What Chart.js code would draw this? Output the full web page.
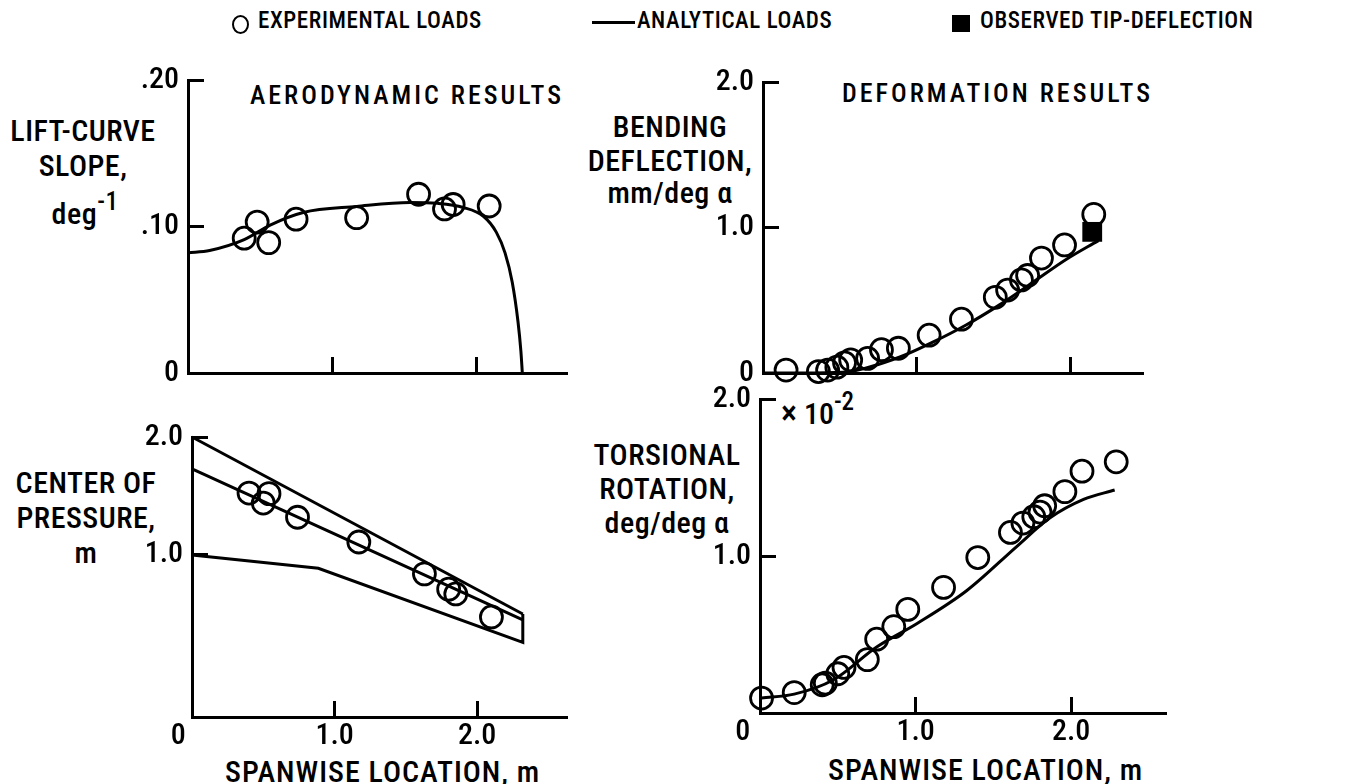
<!DOCTYPE html>
<html>
<head>
<meta charset="utf-8">
<script src="https://cdn.jsdelivr.net/npm/chart.js@4.4.0/dist/chart.umd.min.js"></script>
<style>
  body { margin: 0; background: #fff; width: 1356px; height: 784px; position: relative; overflow: hidden;
         font-family: 'Roboto Condensed', 'DejaVu Sans Condensed', sans-serif; font-weight: 500; color: #000; }
  canvas { position: absolute; }
  .t { position: absolute; white-space: nowrap; line-height: 1; }
  .lg { font-size: 23px; letter-spacing: 0.6px; }
  .hd { font-size: 26px; letter-spacing: 3px; }
  .al { font-size: 30px; text-align: center; width: 220px; letter-spacing: 0.5px; }
  .xl { font-size: 30px; letter-spacing: 1px; }
  .sym { position: absolute; }
</style>
</head>
<body>
<!-- legend -->
<div class="sym" style="left:232px;top:15px;width:13px;height:15px;border:2.5px solid #000;border-radius:50%;"></div>
<div class="t lg" style="left:258px;top:9px;">EXPERIMENTAL LOADS</div>
<div class="sym" style="left:592px;top:21px;width:43px;height:3px;background:#000;"></div>
<div class="t lg" style="left:637px;top:9px;">ANALYTICAL LOADS</div>
<div class="sym" style="left:952px;top:15px;width:18px;height:17px;background:#000;"></div>
<div class="t lg" style="left:980px;top:9px;">OBSERVED TIP-DEFLECTION</div>

<!-- panel titles -->
<div class="t hd" style="left:250px;top:82px;">AERODYNAMIC RESULTS</div>
<div class="t hd" style="left:842px;top:80px;">DEFORMATION RESULTS</div>

<!-- y axis titles -->
<div class="t al" style="left:-27px;top:116px;">LIFT-CURVE</div>
<div class="t al" style="left:-27px;top:151px;">SLOPE,</div>
<div class="t al" style="left:-25px;top:199px;">deg<span style="position:relative;top:-14px;font-size:25px;">-1</span></div>

<div class="t al" style="left:560px;top:112px;">BENDING</div>
<div class="t al" style="left:560px;top:146px;">DEFLECTION,</div>
<div class="t al" style="left:560px;top:178px;">mm/deg α</div>

<div class="t al" style="left:-24px;top:468px;">CENTER OF</div>
<div class="t al" style="left:-24px;top:503px;">PRESSURE,</div>
<div class="t al" style="left:-24px;top:538px;">m</div>

<div class="t al" style="left:557px;top:440px;">TORSIONAL</div>
<div class="t al" style="left:557px;top:474px;">ROTATION,</div>
<div class="t al" style="left:557px;top:508px;">deg/deg α</div>

<div class="t" style="left:781px;top:399px;font-size:30px;"><span style="font-size:34px;line-height:0.8;">×</span> 10<span style="position:relative;top:-14px;font-size:25px;">-2</span></div>

<!-- x axis titles -->
<div class="t xl" style="left:225px;top:757px;">SPANWISE LOCATION, m</div>
<div class="t xl" style="left:828px;top:755px;">SPANWISE LOCATION, m</div>

<canvas id="aero"></canvas>
<canvas id="bend"></canvas>
<canvas id="press"></canvas>
<canvas id="twist"></canvas>

<script>
// lift-curve slope (deg^-1) vs spanwise location (m)
const liftSpan = [0.39, 0.48, 0.56, 0.75, 1.17, 1.60, 1.78, 1.84, 2.09];
const liftSlope = [0.092, 0.103, 0.089, 0.105, 0.106, 0.122, 0.112, 0.115, 0.114];
const liftCalcSpan = [0, 0.15, 0.39, 0.57, 0.80, 1.17, 1.54, 1.73, 1.91, 2.05, 2.14, 2.20, 2.25, 2.29, 2.31, 2.32];
const liftCalcSlope = [0.082, 0.0836, 0.091, 0.101, 0.1096, 0.1137, 0.1164, 0.1158, 0.113, 0.107, 0.096, 0.082, 0.062, 0.035, 0.015, 0];

// bending deflection (mm/deg alpha)
const bendSpan = [0.15, 0.36, 0.42, 0.48, 0.53, 0.57, 0.68, 0.77, 0.88, 1.08, 1.29, 1.51, 1.59, 1.68, 1.72, 1.81, 1.96, 2.15];
const bendDefl = [0.02, 0.01, 0.02, 0.04, 0.07, 0.09, 0.10, 0.16, 0.17, 0.26, 0.37, 0.52, 0.57, 0.64, 0.67, 0.79, 0.88, 1.09];
const bendCalcSpan = [0, 0.34, 0.56, 0.89, 1.10, 1.32, 1.54, 1.75, 1.97, 2.18];
const bendCalcDefl = [0, 0, 0.01, 0.11, 0.21, 0.33, 0.47, 0.62, 0.78, 0.91];
const tipSpan = [2.14];
const tipDefl = [0.97];

// center of pressure (m)
const cpSpan = [0.40, 0.50, 0.54, 0.74, 1.17, 1.63, 1.80, 1.85, 2.10];
const cpLoc = [1.525, 1.44, 1.52, 1.32, 1.11, 0.84, 0.71, 0.67, 0.475];
const cpLeadSpan = [0, 2.32];
const cpLead = [2.0, 0.50];
const cpCalcSpan = [0, 2.32];
const cpCalc = [1.73, 0.45];
const cpTrailSpan = [0, 0.886, 2.32, 2.32];
const cpTrail = [1.0, 0.887, 0.26, 0.50];

// torsional rotation (x 10^-2 deg/deg alpha)
const twistSpan = [0.01, 0.22, 0.40, 0.42, 0.50, 0.54, 0.69, 0.75, 0.86, 0.95, 1.18, 1.40, 1.61, 1.69, 1.76, 1.80, 1.83, 1.96, 2.07, 2.29];
const twistRot = [0.095, 0.13, 0.18, 0.19, 0.25, 0.29, 0.34, 0.47, 0.55, 0.66, 0.80, 0.99, 1.15, 1.21, 1.25, 1.28, 1.32, 1.41, 1.54, 1.60];
const twistCalcSpan = [0.01, 0.22, 0.47, 0.75, 1.01, 1.33, 1.65, 1.86, 2.08, 2.28];
const twistCalcRot = [0.095, 0.12, 0.21, 0.42, 0.57, 0.78, 1.06, 1.24, 1.36, 1.42];

// tick values and labels
const spanTicks = [0, 1, 2];
const slopeTicks = [0, 0.1, 0.2];
const slopeLabels = ['0', '.10', '.20'];
const unitTicks = [0, 1, 2];
const unitLabels = ['0', '1.0', '2.0'];

Chart.defaults.font.family = "'Roboto Condensed', 'DejaVu Sans Condensed', sans-serif";
Chart.defaults.font.weight = '500';
Chart.defaults.color = '#000';

const PAD_T = 14, PAD_R = 16, AXIS_W = 70, AXIS_H = 50;

function pts(xs, ys) {
    return xs.map((x, i) => ({x: x, y: ys[i]}));
}

function circles(xs, ys) {
    return {data: pts(xs, ys), showLine: false, pointStyle: 'circle', pointRadius: 11,
        pointBorderWidth: 2.8, pointBorderColor: '#000', pointBackgroundColor: 'rgba(0,0,0,0)', clip: false};
}

function squares(xs, ys) {
    return {data: pts(xs, ys), showLine: false, pointStyle: 'rect', pointRadius: 14,
        pointBorderWidth: 0, pointBackgroundColor: '#000', clip: false};
}

function curve(xs, ys, smooth) {
    return {data: pts(xs, ys), showLine: true, pointRadius: 0, borderColor: '#000', borderWidth: 3,
        fill: false, cubicInterpolationMode: smooth ? 'monotone' : 'default', tension: 0, clip: false};
}

function noPad(s) {
    s.paddingLeft = 0; s.paddingRight = 0; s.paddingTop = 0; s.paddingBottom = 0;
}

function axis(min, max, ticks, labels, horizontal) {
    return {
        type: 'linear', min: min, max: max,
        afterBuildTicks: s => { s.ticks = ticks.map(v => ({value: v})); },
        afterFit: s => {
            if (horizontal) s.height = AXIS_H; else s.width = AXIS_W;
            noPad(s);
        },
        border: {display: true, color: '#000', width: 3},
        grid: {display: true, drawOnChartArea: false, drawTicks: true, tickLength: -16,
            tickWidth: 3, tickColor: '#000', color: '#000'},
        ticks: {
            callback: (v, i) => labels[i],
            autoSkip: false, maxRotation: 0,
            padding: horizontal ? 17 : 25,
            font: {size: 30}
        }
    };
}

function panel(id, box, xAxis, yAxis, datasets) {
    const cv = document.getElementById(id);
    cv.width = box.r - box.l + AXIS_W + PAD_R;
    cv.height = box.b - box.t + PAD_T + AXIS_H;
    cv.style.left = (box.l - AXIS_W) + 'px';
    cv.style.top = (box.t - PAD_T) + 'px';
    return new Chart(cv, {
        type: 'scatter',
        data: {datasets: datasets},
        options: {
            responsive: false, animation: false, devicePixelRatio: 1,
            layout: {padding: {top: PAD_T, right: PAD_R, left: 0, bottom: 0}},
            plugins: {legend: {display: false}, tooltip: {enabled: false}},
            scales: {x: xAxis, y: yAxis}
        }
    });
}

panel('aero', {l: 188, t: 80, r: 567, b: 373},
    axis(0, 2.63, [1, 2], ['', ''], true),
    axis(0, 0.2, slopeTicks, slopeLabels, false),
    [circles(liftSpan, liftSlope), curve(liftCalcSpan, liftCalcSlope, true)]);

panel('bend', {l: 763, t: 82, r: 1143, b: 373},
    axis(0, 2.47, [1, 2], ['', ''], true),
    axis(0, 2.0, unitTicks, unitLabels, false),
    [squares(tipSpan, tipDefl), circles(bendSpan, bendDefl), curve(bendCalcSpan, bendCalcDefl, true)]);

panel('press', {l: 192, t: 437, r: 567, b: 717},
    axis(0, 2.63, spanTicks, ['0    ', '1.0', '2.0'], true),
    axis(-0.373, 2.0, [1, 2], ['1.0', '2.0'], false),
    [circles(cpSpan, cpLoc), curve(cpLeadSpan, cpLead, false),
     curve(cpCalcSpan, cpCalc, false), curve(cpTrailSpan, cpTrail, false)]);

panel('twist', {l: 760, t: 399, r: 1166, b: 713},
    axis(0, 2.61, spanTicks, ['0     ', '1.0', '2.0'], true),
    axis(0, 2.0, [1, 2], ['1.0', '2.0'], false),
    [circles(twistSpan, twistRot), curve(twistCalcSpan, twistCalcRot, true)]);
</script>
</body>
</html>
